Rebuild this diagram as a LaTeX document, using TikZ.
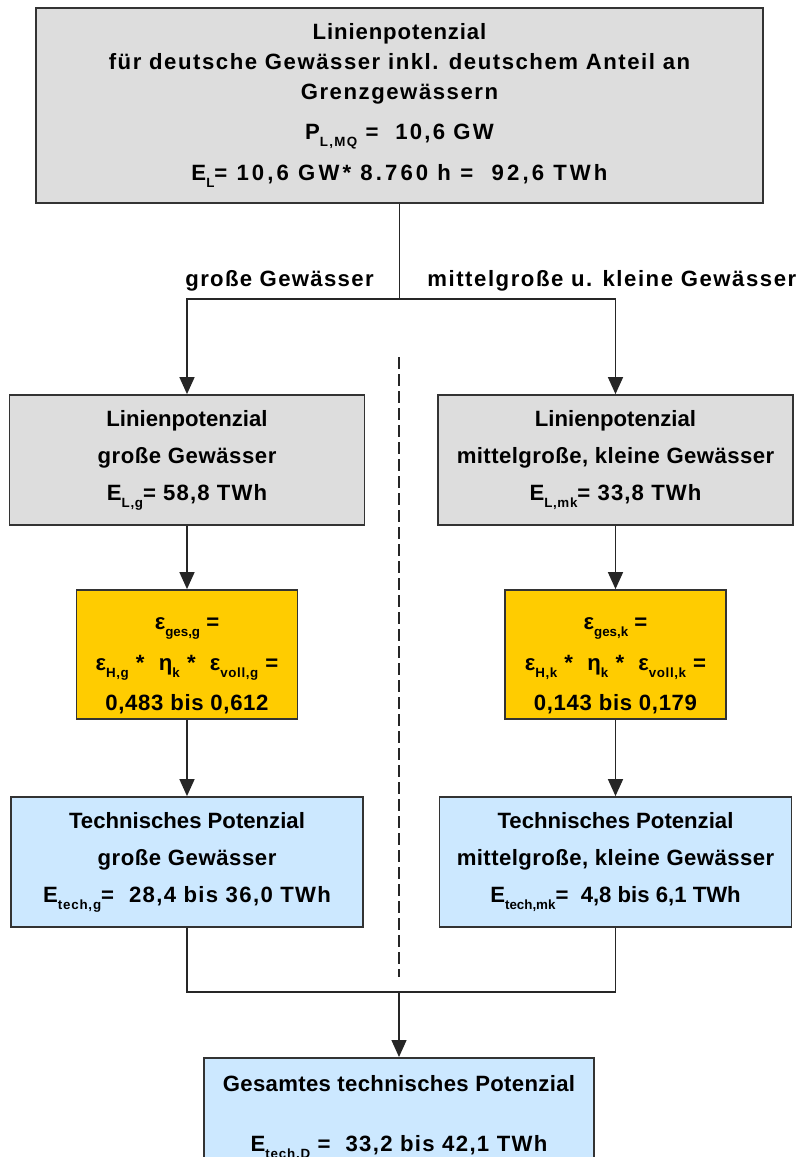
\documentclass[tikz,border=0pt]{standalone}
\usepackage{fontspec}
\setmainfont{Liberation Sans}
\usetikzlibrary{arrows.meta}

\definecolor{boxgray}{HTML}{DDDDDD}
\definecolor{boxyellow}{HTML}{FFCC00}
\definecolor{boxblue}{HTML}{CCE8FF}
\definecolor{rim}{HTML}{333333}

\newcommand{\boxfont}{\fontsize{12.6}{17}\selectfont\bfseries}
\newcommand{\lowidx}[1]{\raisebox{-4pt}{\fontsize{7.6}{8}\selectfont #1}}
\newcommand{\spread}[2]{{\addfontfeature{LetterSpace=#1}#2}}

\tikzset{
  box/.style={draw=rim, line width=1pt, align=center, inner sep=0pt, font=\boxfont},
  graybox/.style={box, fill=boxgray, minimum width=7.1cm, minimum height=2.6cm},
  yellowbox/.style={box, fill=boxyellow, minimum width=4.42cm, minimum height=2.58cm},
  bluebox/.style={box, fill=boxblue, minimum width=7.04cm, minimum height=2.6cm},
  lbl/.style={inner sep=0pt, font=\boxfont},
  link/.style={draw=black!85, line width=0.8pt},
  flow/.style={link, -{Triangle[length=0.34cm,width=0.3cm]}},
}

\begin{document}
\begin{tikzpicture}
  \useasboundingbox (0,0) rectangle (16.04,-23.14);

  % Linienpotenzial gesamt
  \node[box, fill=boxgray, minimum width=14.54cm, minimum height=3.9cm] (lpall) at (7.99,-2.11)
    {\spread{4}{Linienpotenzial}\\ \spread{7}{für deutsche Gewässer inkl. deutschem Anteil an}\\
     \spread{7}{Grenzgewässern}\\[6pt]
     \spread{10}{P\lowidx{L,MQ} =\ \ 10,6 GW}\\[6pt]
     \spread{14}{E\lowidx{L}= 10,6 GW* 8.760 h =\ \ 92,6 TWh}};

  \coordinate (split) at (7.99,-5.98);
  \node[lbl, anchor=base east] (lblg) at (7.48,-5.72) {\spread{6}{große Gewässer}};
  \node[lbl, anchor=base west] (lblmk) at (8.54,-5.72) {\spread{7}{mittelgroße u. kleine Gewässer}};

  % linke Seite
  \node[graybox] (lpg) at (3.74,-9.2)
    {Linienpotenzial\\[4pt] \spread{2.5}{große Gewässer}\\[4pt] \spread{5}{E\lowidx{L,g}= 58,8 TWh}};
  \node[yellowbox] (effg) at (3.74,-13.09)
    {\rule{0pt}{20pt}ε\lowidx{ges,g} =\\[6pt]
     \spread{4.5}{ε\lowidx{H,g} *\ \ η\lowidx{k} *\ \ ε\lowidx{voll,g} =}\\[6pt]
     \spread{3}{0,483 bis 0,612}};
  \node[bluebox] (techg) at (3.74,-17.24)
    {Technisches Potenzial\\[4pt] \spread{2.5}{große Gewässer}\\[4pt]
     \spread{6}{E\lowidx{tech,g}=\ \ 28,4 bis 36,0 TWh}};

  % rechte Seite
  \node[graybox] (lpmk) at (12.31,-9.2)
    {Linienpotenzial\\[4pt] \spread{2}{mittelgroße, kleine Gewässer}\\[4pt] \spread{5}{E\lowidx{L,mk}= 33,8 TWh}};
  \node[yellowbox] (effk) at (12.31,-13.09)
    {\rule{0pt}{20pt}ε\lowidx{ges,k} =\\[6pt]
     \spread{4.5}{ε\lowidx{H,k} *\ \ η\lowidx{k} *\ \ ε\lowidx{voll,k} =}\\[6pt]
     \spread{3}{0,143 bis 0,179}};
  \node[bluebox] (techmk) at (12.31,-17.24)
    {Technisches Potenzial\\[4pt] \spread{2}{mittelgroße, kleine Gewässer}\\[4pt]
     E\lowidx{tech,mk}=\ \ 4,8 bis 6,1 TWh};

  % Summe
  \coordinate (join) at (7.98,-19.84);
  \node[bluebox, minimum width=7.8cm, minimum height=2.4cm, anchor=north] (techD) at (7.98,-21.14)
    {\spread{1.5}{Gesamtes technisches Potenzial}\\[17pt]
     \spread{6}{E\lowidx{tech,D} =\ \ 33,2 bis 42,1 TWh}};

  \draw[link] (lpall.south) -- (split);
  \draw[flow] (split) -| (lpg.north);
  \draw[flow] (split) -| (lpmk.north);
  \draw[flow] (lpg.south) -- (effg.north);
  \draw[flow] (lpmk.south) -- (effk.north);
  \draw[flow] (effg.south) -- (techg.north);
  \draw[flow] (effk.south) -- (techmk.north);
  \draw[link] (techg.south) |- (join);
  \draw[link] (techmk.south) |- (join);
  \draw[flow] (join) -- (techD.north);

  % Trennlinie
  \coordinate (sepTop) at (7.98,-7.14);
  \coordinate (sepBot) at (7.98,-19.54);
  \draw[link, dash pattern=on 0.24cm off 0.1cm] (sepTop) -- (sepBot);
\end{tikzpicture}
\end{document}
